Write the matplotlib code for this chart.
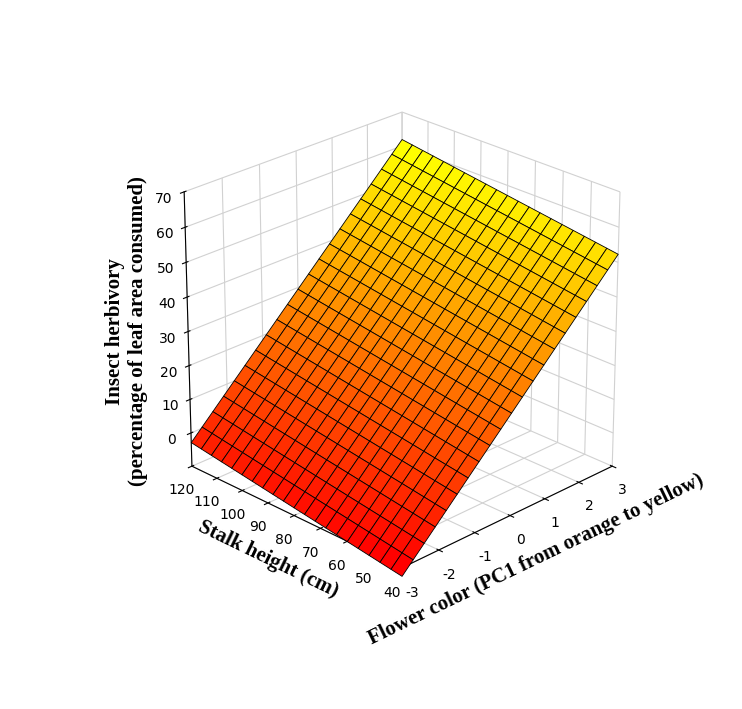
import numpy as np
import matplotlib
matplotlib.use("Agg")
import matplotlib.pyplot as plt
from matplotlib import cm

plt.rcParams["axes.unicode_minus"] = False

# Fitted plane
intercept = 15.1       # herbivory at color=0, stalk=0 (approx)
slope_color = 10.8     # per PC1 unit
slope_stalk = 0.12     # per cm
color_ticks = [-3, -2, -1, 0, 1, 2, 3]
stalk_ticks = [40, 50, 60, 70, 80, 90, 100, 110, 120]
z_ticks = [0, 10, 20, 30, 40, 50, 60, 70]

c = np.linspace(-3, 3, 21)
s = np.linspace(40, 120, 21)
C, S = np.meshgrid(c, s)
Z = intercept + slope_color * C + slope_stalk * S

fig = plt.figure(figsize=(7.42, 7.09), dpi=100)
ax = fig.add_axes([0.08, 0.06, 0.9, 0.92], projection="3d")
ax.set_box_aspect((1, 1, 1), zoom=0.78)
ax.plot_surface(C, S, Z, cmap=cm.autumn, edgecolor="black", linewidth=0.6,
                rstride=1, cstride=1, antialiased=True, shade=False)
ax.view_init(elev=25, azim=-135)
ax.set_xlim(-3, 3); ax.set_ylim(40, 120); ax.set_zlim(-10, 70)
ax.set_xticks(color_ticks); ax.set_yticks(stalk_ticks); ax.set_zticks(z_ticks)
for a in (ax.xaxis, ax.yaxis, ax.zaxis):
    a.set_pane_color((1, 1, 1, 1))
    a._axinfo["grid"]["color"] = (0.82, 0.82, 0.82, 1)
    a._axinfo["grid"]["linewidth"] = 0.8
ax.tick_params(labelsize=10)
lf = dict(family="Liberation Serif", fontweight="bold", fontsize=15)
ax.set_xlabel("Flower color (PC1 from orange to yellow)", labelpad=8, **lf)
ax.set_ylabel("Stalk height (cm)", labelpad=8, **lf)
ax.zaxis.set_rotate_label(False)
ax.set_zlabel("Insect herbivory\n(percentage of leaf area consumed)", labelpad=14,
              rotation=90, **lf)
fig.savefig("out.png", dpi=100)
